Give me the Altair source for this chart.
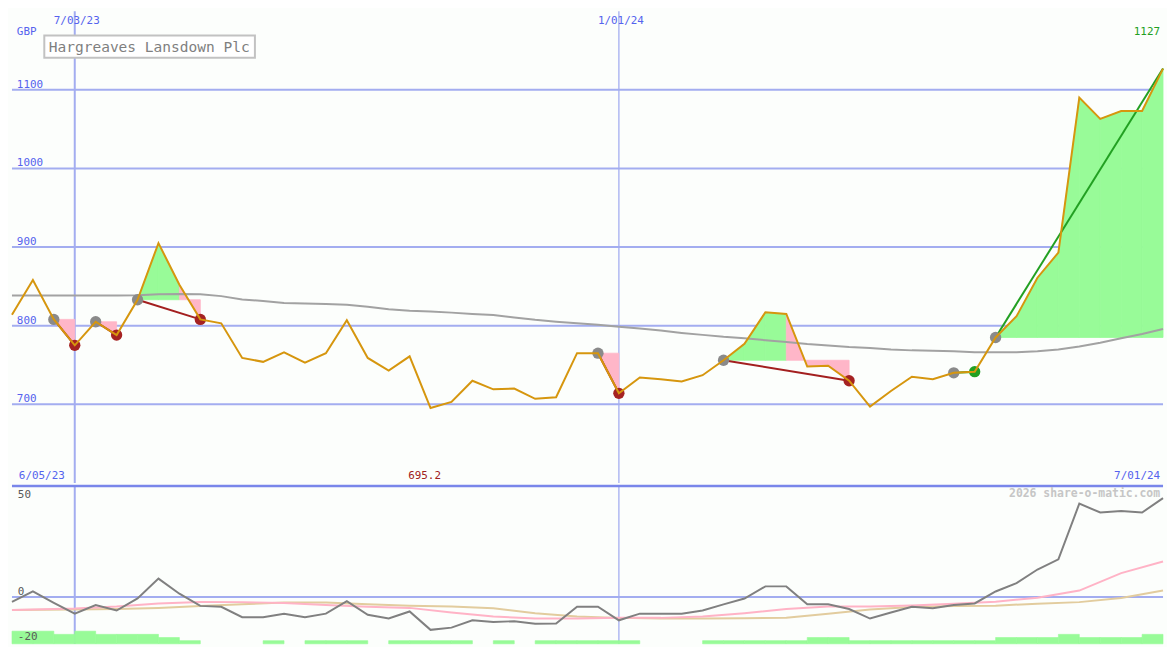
import altair as alt
import pandas as pd

# ---------------- data ----------------
start_date = "2023-06-12"          # first weekly point shown
price = [814, 858, 808, 775, 805, 788, 833, 905, 852, 808,
         803, 759, 754, 766, 753, 765, 807, 759, 743, 761,
         695.2, 703, 730, 719, 720, 707, 709, 765, 765, 714,
         734, 732, 729, 737, 756, 777, 817, 815, 748, 749,
         730, 697, 717, 735, 732, 740, 741.5, 785, 812, 861,
         893, 1090, 1063, 1073, 1073, 1127]
ma = [838.4, 838.4, 838.4, 838.4, 838.4, 838.4, 838.8, 840.0, 840.4, 840.0,
      837.6, 833.3, 831.4, 828.9, 828.1, 827.7, 826.5, 824.0, 820.9, 819.1,
      817.9, 816.6, 814.8, 813.5, 810.5, 807.4, 805.0, 803.1, 801.2, 798.5,
      796.3, 793.8, 790.8, 788.3, 785.8, 784.0, 781.5, 779.1, 776.6, 774.8,
      772.9, 771.7, 769.8, 768.6, 768.0, 767.4, 766.1, 766.1, 766.1, 767.4,
      769.8, 773.5, 778.4, 784.0, 789.5, 795.7]
momentum = [-2.2, 2.5, -2.6, -7.5, -3.6, -6.1, -0.6, 8.3, 1.5, -4.0,
            -4.4, -9.1, -9.1, -7.5, -9.1, -7.5, -1.9, -8.0, -9.7, -6.5,
            -14.8, -13.8, -10.5, -11.3, -10.9, -12.0, -11.9, -4.4, -4.4, -10.5,
            -7.5, -7.5, -7.5, -6.1, -3.3, -0.7, 4.8, 4.8, -3.3, -3.3,
            -5.4, -9.7, -7.0, -4.4, -5.1, -3.6, -2.9, 2.5, 6.3, 12.4,
            17.0, 42.1, 38.1, 38.8, 38.1, 44.6]
avg_idx = [0, 3, 5, 7, 9, 11, 13, 15, 17, 19, 21, 23, 25, 27, 29, 31, 33, 35,
           37, 39, 41, 43, 45, 47, 49, 51, 53, 55]
pink_avg = [-5.8, -5.2, -4.3, -2.9, -2.2, -2.3, -2.7, -3.6, -4.4, -4.9, -7.0,
            -8.8, -9.7, -9.7, -9.3, -9.4, -8.8, -7.3, -5.4, -4.3, -4.3, -3.8,
            -3.0, -2.1, -0.3, 2.9, 10.8, 16.0]
tan_avg = [-5.8, -5.6, -5.4, -4.9, -4.0, -3.3, -2.5, -2.5, -3.3, -3.9, -4.3,
           -5.1, -7.3, -8.8, -9.4, -9.7, -9.7, -9.6, -9.3, -7.5, -5.6, -4.5,
           -4.0, -3.9, -3.0, -2.3, -0.4, 2.9]
volume = [4, 4, 3, 4, 3, 3, 3, 2, 1, 0,
          0, 0, 1, 0, 1, 1, 1, 0, 1, 1,
          1, 1, 0, 1, 0, 1, 1, 1, 1, 1,
          0, 0, 0, 1, 1, 1, 1, 1, 2, 2,
          1, 1, 1, 1, 1, 1, 1, 2, 2, 2,
          3, 2, 2, 2, 3]
trade_entry = [2, 4, 6, 28, 34, 45, 47]
trade_exit = [3, 5, 9, 29, 40, 46, 55]
trade_open = [False, False, False, False, False, False, True]
price_ticks = [700, 800, 900, 1000, 1100]
date_ticks = ["2023-07-03", "2024-01-01"]
date_tick_labels = ["7/03/23", "1/01/24"]
lower_ticks = [50, 0, -20]
title = "Hargreaves Lansdown Plc"
currency = "GBP"
range_start_label = "6/05/23"
range_end_label = "7/01/24"
credit = "2026 share-o-matic.com"

# ---------------- layout / style ----------------
REF_W, REF_H = 1175, 650
W, H = 1159, 634
SX, SY = W / REF_W, H / REF_H
UP_H = round(487 * SY)
LO_H = H - UP_H


def px(v):
    return v * SX


def py(v):
    return v * SY


FONT = "DejaVu Sans Mono"
FS = 11
BG = "#fcfefc"
GRID = "#a3adf0"
SEP = "#7986ea"
BLUE_TXT = "#5563ee"
ORANGE = "#d6960e"
GREEN_FILL = "#98fb98"
PINK_FILL = "#ffb6c8"

# ---------------- derived tables ----------------
dates = pd.date_range(start_date, periods=len(price), freq="7D")
t = [(d - dates[0]).days for d in dates]
df = pd.DataFrame({"t": t, "price": price, "ma": ma, "mom": momentum})

xs = alt.Scale(domain=[0, t[-1]], nice=False, zero=False)
ysu = alt.Scale(domain=[600, 1200], nice=False, zero=False)
ysl = alt.Scale(domain=[-21.1, 50.1], nice=False, zero=False)


def X(f="t"):
    return alt.X(f"{f}:Q", scale=xs, axis=None)


def YU(f):
    return alt.Y(f"{f}:Q", scale=ysu, axis=None)


def YL(f):
    return alt.Y(f"{f}:Q", scale=ysl, axis=None)


fill_rows, tl_rows, mk_rows = [], [], []
seg = 0
for k, (e, x, op) in enumerate(zip(trade_entry, trade_exit, trade_open)):
    level = price[e]
    for i in range(e, x):
        kind = "gain" if price[i + 1] > level else "loss"
        fill_rows.append({"seg": seg, "t": t[i], "p": price[i], "lvl": level, "fk": kind})
        fill_rows.append({"seg": seg, "t": t[i + 1], "p": price[i + 1], "lvl": level, "fk": kind})
        seg += 1
    res = "gain" if price[x] > level else "loss"
    tl_rows.append({"trade": k, "t": t[e], "p": price[e], "tk": res})
    tl_rows.append({"trade": k, "t": t[x], "p": price[x], "tk": res})
    mk_rows.append({"t": t[e], "p": price[e], "mk": "entry"})
    if not op:
        mk_rows.append({"t": t[x], "p": price[x], "mk": res})

df_fill = pd.DataFrame(fill_rows)
df_tl = pd.DataFrame(tl_rows)
df_mk = pd.DataFrame(mk_rows)

dt_t = [(pd.Timestamp(d) - dates[0]).days for d in date_ticks]
df_dt = pd.DataFrame({"t": dt_t, "label": date_tick_labels})

# ---------------- upper panel ----------------
grid_u = alt.Chart(pd.DataFrame({"v": price_ticks})).mark_rule(
    color=GRID, strokeWidth=2).encode(y=YU("v"))
vline_a = alt.Chart(df_dt.iloc[[0]]).mark_rule(color=GRID, strokeWidth=2).encode(x=X())
vline_b = alt.Chart(df_dt.iloc[[1]]).mark_rule(color=GRID, strokeWidth=1.3).encode(x=X())

fill_scale = alt.Scale(domain=["gain", "loss"], range=[GREEN_FILL, PINK_FILL])
fills = alt.Chart(df_fill).mark_area(interpolate="linear", opacity=1, strokeWidth=0.8).encode(
    x=X(), y=YU("p"), y2=alt.Y2("lvl:Q"),
    fill=alt.Fill("fk:N", scale=fill_scale, legend=None),
    stroke=alt.Stroke("fk:N", scale=fill_scale, legend=None),
    detail="seg:N")

ma_line = alt.Chart(df).mark_line(color="#a2a2a2", strokeWidth=2).encode(x=X(), y=YU("ma"))

trade_lines = alt.Chart(df_tl).mark_line(strokeWidth=2).encode(
    x=X(), y=YU("p"), detail="trade:N",
    color=alt.Color("tk:N", scale=alt.Scale(domain=["gain", "loss"],
                                           range=["#22a022", "#a31f1f"]), legend=None))

markers = alt.Chart(df_mk).mark_circle(size=130, opacity=1).encode(
    x=X(), y=YU("p"),
    color=alt.Color("mk:N", scale=alt.Scale(domain=["entry", "loss", "gain"],
                                           range=["#8a8a8a", "#a52222", "#22a022"]),
                    legend=None))

price_line = alt.Chart(df).mark_line(color=ORANGE, strokeWidth=2).encode(x=X(), y=YU("price"))

price_lbl = alt.Chart(pd.DataFrame({"v": price_ticks, "label": [str(v) for v in price_ticks]})
                      ).mark_text(font=FONT, fontSize=FS, color=BLUE_TXT, align="left",
                                  baseline="alphabetic", dy=-2).encode(
    x=alt.value(px(5)), y=YU("v"), text="label:N")

gbp_lbl = alt.Chart(pd.DataFrame({"label": [currency]})).mark_text(
    font=FONT, fontSize=FS, color=BLUE_TXT, align="left", baseline="alphabetic").encode(
    x=alt.value(px(5)), y=alt.value(py(24.5)), text="label:N")

date_lbl = alt.Chart(df_dt).mark_text(
    font=FONT, fontSize=FS, color=BLUE_TXT, align="center", baseline="alphabetic", dx=2).encode(
    x=X(), y=alt.value(py(13.3)), text="label:N")

last_lbl = alt.Chart(pd.DataFrame({"t": [t[-1]], "label": [f"{price[-1]:g}"]})).mark_text(
    font=FONT, fontSize=FS, color="#22a022", align="right", baseline="alphabetic", dx=-3).encode(
    x=X(), y=alt.value(py(24.5)), text="label:N")

imin = price.index(min(price))
min_lbl = alt.Chart(pd.DataFrame({"t": [t[imin]], "label": [f"{price[imin]:.1f}"]})).mark_text(
    font=FONT, fontSize=FS, color="#a02020", align="center", baseline="alphabetic", dx=-6).encode(
    x=X(), y=alt.value(py(482.5)), text="label:N")

range_lbl_l = alt.Chart(pd.DataFrame({"label": [range_start_label]})).mark_text(
    font=FONT, fontSize=FS, color=BLUE_TXT, align="left", baseline="alphabetic").encode(
    x=alt.value(px(7)), y=alt.value(py(482.5)), text="label:N")
range_lbl_r = alt.Chart(pd.DataFrame({"label": [range_end_label]})).mark_text(
    font=FONT, fontSize=FS, color=BLUE_TXT, align="right", baseline="alphabetic").encode(
    x=alt.value(px(1172)), y=alt.value(py(482.5)), text="label:N")

title_df = pd.DataFrame({"label": [title]})
title_box = alt.Chart(title_df).mark_rect(fill="white", stroke="#c2c2c2", strokeWidth=2).encode(
    x=alt.value(px(33)), x2=alt.value(px(248)), y=alt.value(py(25)), y2=alt.value(py(48)))
title_txt = alt.Chart(title_df).mark_text(
    font=FONT, fontSize=15 * SY, color="#7f7f7f", align="left", baseline="alphabetic").encode(
    x=alt.value(px(37.5)), y=alt.value(py(41.7)), text="label:N")

upper = alt.layer(grid_u, vline_a, vline_b, fills, ma_line, trade_lines, markers, price_line,
                  price_lbl, gbp_lbl, date_lbl, last_lbl, min_lbl, range_lbl_l, range_lbl_r,
                  title_box, title_txt).resolve_scale(
    color="independent", fill="independent", stroke="independent").properties(
    width=W, height=UP_H)

# ---------------- lower panel ----------------
df_vol = pd.DataFrame({"t0": t[:-1], "t1": t[1:], "vol": volume, "zero": [0] * len(volume)})
df_avg = pd.DataFrame({"t": [t[i] for i in avg_idx], "pink": pink_avg, "tan": tan_avg})

grid_l = alt.Chart(pd.DataFrame({"v": [0]})).mark_rule(color=GRID, strokeWidth=2).encode(y=YL("v"))
vol_bars = alt.Chart(df_vol).transform_filter("datum.vol > 0").mark_rect(
    color=GREEN_FILL, stroke=GREEN_FILL, strokeWidth=0.6).encode(
    x=X("t0"), x2=alt.X2("t1:Q"),
    y=alt.Y("vol:Q", scale=alt.Scale(domain=[0, 50], nice=False, zero=True), axis=None),
    y2=alt.Y2("zero:Q"))
tan_line = alt.Chart(df_avg).mark_line(color="#e2cc9e", strokeWidth=2).encode(x=X(), y=YL("tan"))
pink_line = alt.Chart(df_avg).mark_line(color="#ffb3c6", strokeWidth=2).encode(x=X(), y=YL("pink"))
mom_line = alt.Chart(df).mark_line(color="#808080", strokeWidth=2).encode(x=X(), y=YL("mom"))
sep = alt.Chart(pd.DataFrame({"v": [50.1]})).mark_rule(color=SEP, strokeWidth=2.5).encode(y=YL("v"))

tick_dy = [12.3, -1.7, -1.5]
lower_lbls = []
for v, d in zip(lower_ticks, tick_dy):
    lower_lbls.append(
        alt.Chart(pd.DataFrame({"v": [v], "label": [str(v)]})).mark_text(
            font=FONT, fontSize=FS, color="#5a5a5a", align="left", baseline="alphabetic",
            dy=d * SY).encode(x=alt.value(px(6)), y=YL("v"), text="label:N"))

credit_txt = alt.Chart(pd.DataFrame({"label": [credit]})).mark_text(
    font=FONT, fontSize=11.5, fontWeight="bold", color="#c6c6c6", align="right",
    baseline="alphabetic").encode(x=alt.value(px(1172)), y=alt.value(py(11)), text="label:N")

lower = alt.layer(grid_l, vline_a, vline_b, vol_bars, tan_line, pink_line, mom_line, sep,
                  *lower_lbls, credit_txt).resolve_scale(y="independent").properties(
    width=W, height=LO_H)

chart = alt.vconcat(upper, lower, spacing=0).properties(
    background=BG, padding=0).configure_view(strokeWidth=0)

chart.save("out.html", embed_options={"renderer": "svg", "actions": False})
